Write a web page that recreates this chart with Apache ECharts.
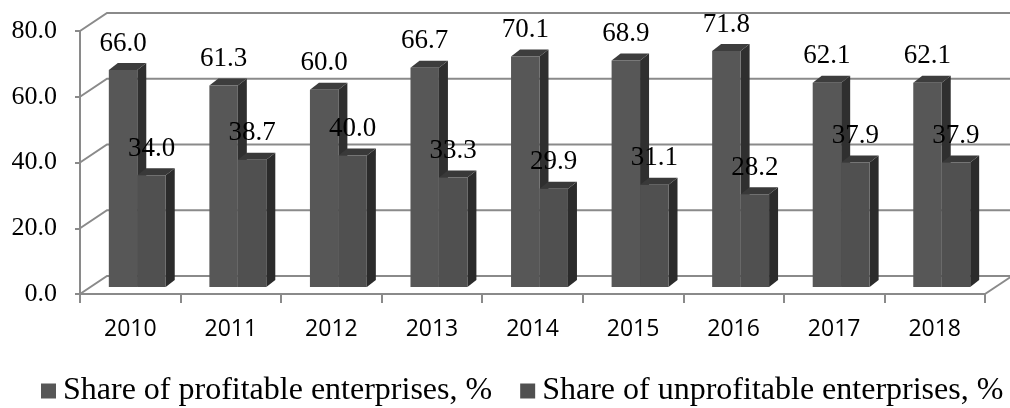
<!DOCTYPE html>
<html>
<head>
<meta charset="utf-8">
<script src="https://cdn.jsdelivr.net/npm/echarts@6/dist/echarts.min.js"></script>
<style>
  html, body { margin: 0; padding: 0; background: #fff; }
  #chart { width: 1010px; height: 408px; }
</style>
</head>
<body>
<div id="chart"></div>
<script>
// Share of profitable vs unprofitable enterprises by year
const years = ['2010', '2011', '2012', '2013', '2014', '2015', '2016', '2017', '2018'];
const profitable = [66.0, 61.3, 60.0, 66.7, 70.1, 68.9, 71.8, 62.1, 62.1];
const unprofitable = [34.0, 38.7, 40.0, 33.3, 29.9, 31.1, 28.2, 37.9, 37.9];
const yTicks = [0, 20, 40, 60, 80];
const seriesNames = ['Share of profitable enterprises, %', 'Share of unprofitable enterprises, %'];

// Pseudo-3D geometry (pixels)
const WALL_DX = 27, WALL_DY = -18;     // depth of the chart box
const PLANE_DX = 7, PLANE_DY = -7;     // bars stand part-way into the box
const BAR_DX = 9, BAR_DY = -7;         // depth of a single bar
const BAR_FRAC = 0.283;                // bar width as share of a category band
const LINE = '#8a8a8a';
const SERIF = '"Liberation Serif", "Times New Roman", serif';

const faces = [
  { front: '#575757', side: '#2f2f2f', top: '#3d3d3d' },
  { front: '#505050', side: '#2b2b2b', top: '#393939' }
];

function wallItem(params, api) {
  const cs = params.coordSys;
  const v = api.value(1);
  const y = api.coord([0, v])[1];
  const x0 = cs.x, x1 = cs.x + cs.width;
  const children = [{
    type: 'polyline',
    shape: { points: [[x0, y], [x0 + WALL_DX, y + WALL_DY], [x1 + WALL_DX + 40, y + WALL_DY]] },
    style: { stroke: LINE, lineWidth: 2, fill: null }
  }];
  if (v === 0) {
    children.push({
      type: 'line',
      shape: { x1: x1, y1: y, x2: x1 + WALL_DX, y2: y + WALL_DY },
      style: { stroke: LINE, lineWidth: 2 }
    });
  }
  return { type: 'group', children: children };
}

function barRenderer(k) {
  return function (params, api) {
    const i = api.value(0);
    const v = api.value(1);
    const base = api.coord([i, 0]);
    const topPt = api.coord([i, v]);
    const band = api.size([1, 0])[0];
    const bw = band * BAR_FRAC;
    const left = base[0] + PLANE_DX + (k === 0 ? -bw : 0);
    const right = left + bw;
    const bot = base[1] + PLANE_DY;
    const top = topPt[1] + PLANE_DY;
    const c = faces[k];
    return {
      type: 'group',
      children: [
        {
          type: 'polygon',
          shape: { points: [[right, top], [right + BAR_DX, top + BAR_DY], [right + BAR_DX, bot + BAR_DY], [right, bot]] },
          style: { fill: c.side }
        },
        {
          type: 'polygon',
          shape: { points: [[left, top], [left + BAR_DX, top + BAR_DY], [right + BAR_DX, top + BAR_DY], [right, top]] },
          style: { fill: c.top }
        },
        {
          type: 'rect',
          shape: { x: left, y: top, width: bw, height: bot - top },
          style: { fill: c.front }
        },
        {
          type: 'text',
          z2: 50,
          style: {
            x: left + bw / 2,
            y: top - 13,
            text: v.toFixed(1),
            textAlign: 'center',
            textVerticalAlign: 'bottom',
            font: '27px ' + SERIF,
            fill: '#000'
          }
        }
      ]
    };
  };
}

const chart = echarts.init(document.getElementById('chart'), null, { renderer: 'canvas' });
chart.setOption({
  animation: false,
  backgroundColor: '#fff',
  grid: { left: 80, right: 25, top: 31, bottom: 114 },
  legend: {
    left: 41,
    top: 375,
    width: 985,
    padding: 0,
    itemWidth: 15,
    itemHeight: 15,
    itemGap: 28,
    icon: 'rect',
    data: seriesNames,
    textStyle: { fontFamily: SERIF, fontSize: 32, color: '#000', padding: [0, 0, 0, 2] }
  },
  xAxis: {
    type: 'category',
    data: years,
    axisLine: { lineStyle: { color: LINE, width: 2 } },
    axisTick: { show: true, length: 9, lineStyle: { color: LINE, width: 2 } },
    axisLabel: { fontFamily: '"Open Sans", sans-serif', fontSize: 23, color: '#000', margin: 24 },
    splitLine: { show: false }
  },
  yAxis: {
    type: 'value',
    min: 0,
    max: 80,
    interval: 20,
    axisLine: { show: true, lineStyle: { color: LINE, width: 2 } },
    axisTick: { show: true, length: 5, lineStyle: { color: LINE, width: 2 } },
    axisLabel: { fontFamily: SERIF, fontSize: 26, color: '#000', margin: 23, formatter: v => v.toFixed(1) },
    splitLine: { show: false }
  },
  series: [
    {
      name: 'walls',
      type: 'custom',
      silent: true,
      z: 1,
      renderItem: wallItem,
      data: yTicks.map(v => [0, v])
    },
    {
      name: seriesNames[0],
      type: 'custom',
      z: 2,
      itemStyle: { color: faces[0].front },
      renderItem: barRenderer(0),
      data: profitable.map((v, i) => [i, v])
    },
    {
      name: seriesNames[1],
      type: 'custom',
      z: 3,
      itemStyle: { color: faces[1].front },
      renderItem: barRenderer(1),
      data: unprofitable.map((v, i) => [i, v])
    }
  ]
});
</script>
</body>
</html>
